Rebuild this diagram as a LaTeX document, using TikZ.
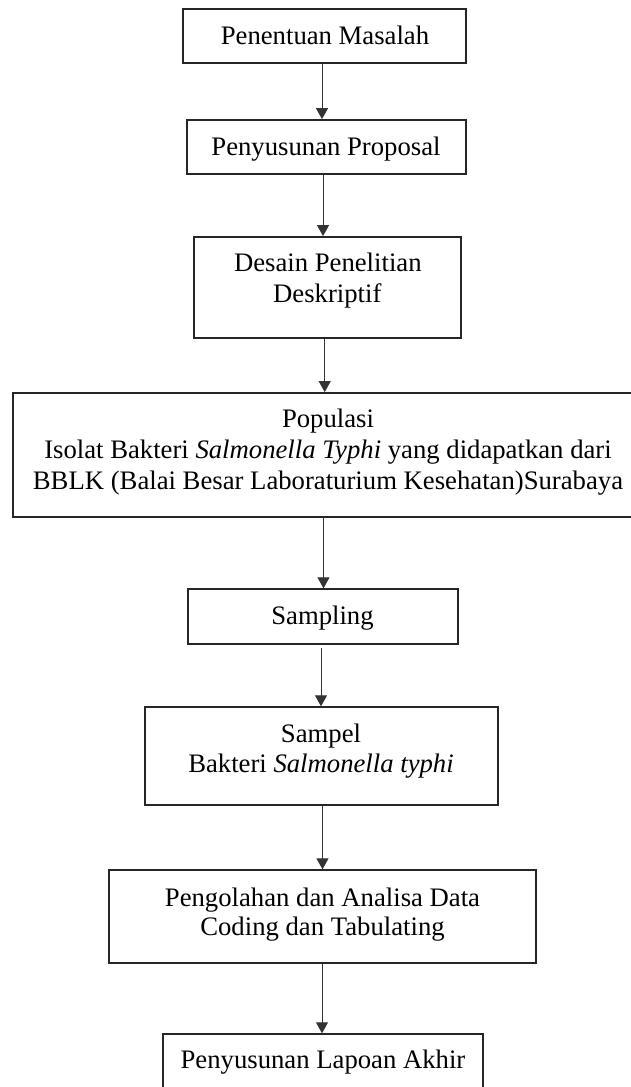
\documentclass[tikz,border=0pt]{standalone}
\usepackage{fontspec}
\setmainfont{Liberation Serif}
\usetikzlibrary{arrows.meta}
\begin{document}
\begin{tikzpicture}[x=1pt,y=-1pt,
  box/.style={draw=black!85, line width=1.8pt, inner sep=0pt, rectangle},
  thinbox/.style={box, line width=1.4pt},
  lbl/.style={anchor=base, inner sep=0pt, font=\fontsize{26.7}{30}\selectfont},
  arr/.style={draw=black!80, line width=1pt, -{Triangle[width=12pt,length=11pt]}}]
\useasboundingbox[fill=white] (0,0) rectangle (631,1087);
% boxes
\node[box, minimum width=283pt, minimum height=54pt] (b1) at (324.5,36) {};
\node[box, minimum width=279pt, minimum height=54pt] (b2) at (326.5,147) {};
\node[box, minimum width=267pt, minimum height=101pt] (b3) at (327.5,287.5) {};
\node[box, minimum width=632pt, minimum height=124pt] (b4) at (329,455) {};
\node[thinbox, minimum width=270pt, minimum height=55pt] (b5) at (323,616.5) {};
\node[thinbox, minimum width=353pt, minimum height=98pt] (b6) at (321.5,756) {};
\node[thinbox, minimum width=427pt, minimum height=93pt] (b7) at (322.5,916.5) {};
\node[thinbox, minimum width=320pt, minimum height=58pt] (b8) at (323,1063) {};
% texts
\node[lbl] (t1) at (325,44) {Penentuan Masalah};
\node[lbl] (t2) at (326,155) {Penyusunan Proposal};
\node[lbl] (t3a) at (327.8,271.5) {Desain Penelitian};
\node[lbl] (t3b) at (327.3,302.5) {Deskriptif};
\node[lbl] (t4a) at (328,427.5) {Populasi};
\node[lbl] (t4b) at (328,458.5) {Isolat Bakteri \textit{Salmonella Typhi} yang didapatkan dari};
\node[lbl] (t4c) at (328,489) {BBLK (Balai Besar Laboraturium Kesehatan)Surabaya};
\node[lbl] (t5) at (322.5,624) {Sampling};
\node[lbl] (t6a) at (321,742.5) {Sampel};
\node[lbl] (t6b) at (321,772.5) {Bakteri \textit{Salmonella typhi}};
\node[lbl] (t7a) at (322.5,906.5) {Pengolahan dan Analisa Data};
\node[lbl] (t7b) at (322.5,935) {Coding dan Tabulating};
\node[lbl] (t8) at (323,1068) {Penyusunan Lapoan Akhir};
% arrow columns
\coordinate (x1) at (322,0);
\coordinate (x2) at (323,0);
\coordinate (x3) at (324.7,0);
\coordinate (x4) at (323.5,0);
\coordinate (x5) at (321,0);
\coordinate (x6) at (322.5,0);
\coordinate (x7) at (322,0);
\draw[arr] (b1.south -| x1) -- (b2.north -| x1);
\draw[arr] (b2.south -| x2) -- (b3.north -| x2);
\draw[arr] (b3.south -| x3) -- (b4.north -| x3);
\draw[arr] (b4.south -| x4) -- (b5.north -| x4);
\draw[arr] ([yshift=-3pt]b5.south -| x5) -- (b6.north -| x5);
\draw[arr] (b6.south -| x6) -- (b7.north -| x6);
\draw[arr] (b7.south -| x7) -- (b8.north -| x7);
\end{tikzpicture}
\end{document}
